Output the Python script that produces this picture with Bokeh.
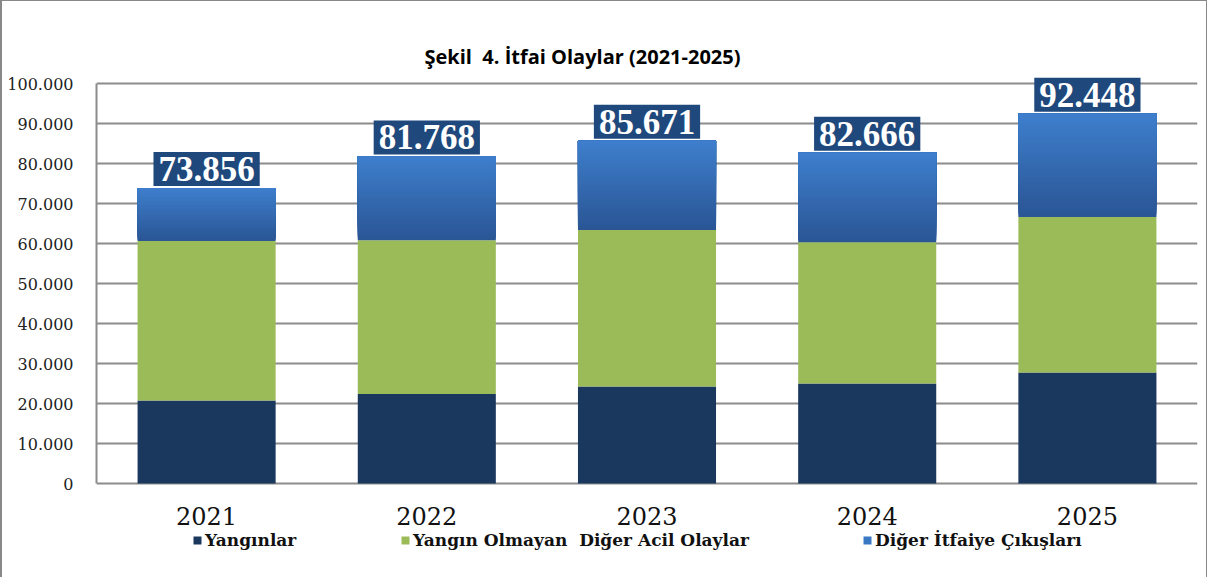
from bokeh.plotting import figure
from bokeh.models import (FactorRange, Range1d, ColumnDataSource, Legend, LegendItem,
                          CustomJSTickFormatter, FixedTicker, Label)
from bokeh.core.properties import value
from bokeh.embed import file_html
from bokeh.resources import INLINE

years = ["2021", "2022", "2023", "2024", "2025"]
yanginlar = [20750, 22400, 24250, 25000, 27750]
acil_olaylar = [39850, 38400, 39150, 35300, 38850]
diger_cikislar = [13256, 20968, 22271, 22366, 25848]
toplam_labels = ["73.856", "81.768", "85.671", "82.666", "92.448"]
series_names = ["Yangınlar", "Yangın Olmayan  Diğer Acil Olaylar", "Diğer İtfaiye Çıkışları"]
y_ticks = [0, 10000, 20000, 30000, 40000, 50000, 60000, 70000, 80000, 90000, 100000]
chart_title = "Şekil\u00a0 4. İtfai Olaylar (2021-2025)"

C_DARK = "#1a375e"
C_GREEN = "#9bbb59"
C_BLUE_TOP = (0x3e, 0x7e, 0xcc)
C_BLUE_BOT = (0x2a, 0x56, 0x95)
C_BLUE_LEG = "#3b78c4"
C_LABEL = "#1f497d"
C_GRID = "#8c8c8c"

W, H = 1207, 577
Y_MAX = 100000
PX = Y_MAX / 400.0          # data units per pixel (axis 0..100.000 spans 400 px)
p = figure(x_range=FactorRange(*years, range_padding=0),
           y_range=Range1d(-(H - 482) * PX, Y_MAX + 82 * PX),
           width=W, height=H, output_backend="svg", toolbar_location=None,
           x_axis_location=None,
           min_border_left=94, min_border_right=12, min_border_top=0, min_border_bottom=0)
p.outline_line_color = None
p.background_fill_color = "white"
p.border_fill_color = "white"
p.styles = {"border-left": "2px solid #888888", "border-top": "1px solid #888888",
            "border-right": "1px solid #888888"}

BW = 0.627
tops1 = yanginlar
tops2 = [a + b for a, b in zip(yanginlar, acil_olaylar)]
tops3 = [a + b for a, b in zip(tops2, diger_cikislar)]

r1 = p.vbar(x=years, bottom=[0] * len(years), top=tops1, width=BW, fill_color=C_DARK, line_color=None)
r2 = p.vbar(x=years, bottom=tops1, top=tops2, width=BW, fill_color=C_GREEN, line_color=None)

# gradient for the third series: overlapping bands (each reaches the segment top)
N = 40
bx, bb, bt, bc = [], [], [], []
for k in range(N):
    t = k / (N - 1)
    rgb = tuple(int(round(C_BLUE_BOT[j] + (C_BLUE_TOP[j] - C_BLUE_BOT[j]) * t)) for j in range(3))
    for i, yr in enumerate(years):
        lo, hi = tops2[i], tops3[i]
        bx.append(yr)
        bb.append(lo + (hi - lo) * k / N)
        bt.append(hi)
        bc.append("#%02x%02x%02x" % rgb)
src3 = ColumnDataSource(dict(x=bx, bottom=bb, top=bt, color=bc))
p.vbar(x="x", bottom="bottom", top="top", width=BW, fill_color="color", line_color=None, source=src3)
r3_leg = p.vbar(x=[years[0]], bottom=[0], top=[0], width=BW, fill_color=C_BLUE_LEG, line_color=None)

# total value labels
lsrc = ColumnDataSource(dict(x=years, y=tops3, t=toplam_labels))
p.text(x="x", y="y", text="t", source=lsrc, text_align="center", text_baseline="bottom",
       y_offset=-2, text_font=value("Liberation Serif"), text_font_style="bold",
       text_font_size="35px", text_color="white", background_fill_color=C_LABEL,
       padding=5)

# category labels under the base line
ysrc = ColumnDataSource(dict(x=years, y=[0] * len(years), t=years))
p.text(x="x", y="y", text="t", source=ysrc, text_align="center", text_baseline="middle",
       y_offset=32, text_font=value("DejaVu Serif"), text_font_size="24px", text_color="#111111")

p.yaxis.ticker = FixedTicker(ticks=y_ticks)
p.yaxis.bounds = (0, Y_MAX)
p.yaxis.formatter = CustomJSTickFormatter(code="return tick.toString().replace(/\\B(?=(\\d{3})+(?!\\d))/g, '.');")
p.yaxis.major_tick_line_color = None
p.yaxis.minor_tick_line_color = None
p.yaxis.axis_line_color = C_GRID
p.yaxis.axis_line_width = 2
p.yaxis.major_label_text_font = "DejaVu Serif"
p.yaxis.major_label_text_font_size = "16px"
p.yaxis.major_label_text_color = "#222222"
p.yaxis.major_label_standoff = 17

p.xgrid.grid_line_color = None
p.ygrid.grid_line_color = C_GRID
p.ygrid.grid_line_width = 2
p.ygrid.level = "underlay"

# title (screen units relative to the frame's bottom-left corner)
p.add_layout(Label(x=486, y=H - 55, x_units="screen", y_units="screen",
                   text=chart_title, text_align="center",
                   text_baseline="middle", text_font="Open Sans", text_font_style="bold",
                   text_font_size="20px", text_color="black"))

# one legend per entry so each sits where the reference has it
leg_renderers = [r1, r2, r3_leg]
leg_x = [96, 304, 766]
for name, rr, lx in zip(series_names, leg_renderers, leg_x):
    lg = Legend(items=[LegendItem(label=name, renderers=[rr])], location=(lx, H - 541 - 8),
                orientation="horizontal", glyph_width=10, glyph_height=10, label_standoff=3,
                label_height=16, label_text_baseline="middle",
                label_text_font="DejaVu Serif", label_text_font_style="bold",
                label_text_font_size="17px", label_text_color="#111111",
                border_line_color=None, background_fill_alpha=0, padding=0, margin=0)
    p.add_layout(lg)

open("out.html", "w").write(file_html(p, INLINE))
